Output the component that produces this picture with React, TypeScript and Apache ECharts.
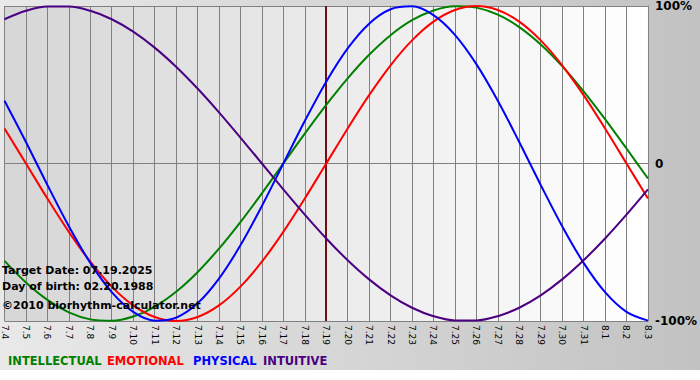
import React, { useEffect, useRef } from "react";
import * as echarts from "echarts";

const dates = [
  "7.4", "7.5", "7.6", "7.7", "7.8", "7.9", "7.10", "7.11", "7.12", "7.13", "7.14",
  "7.15", "7.16", "7.17", "7.18", "7.19", "7.20", "7.21", "7.22", "7.23", "7.24",
  "7.25", "7.26", "7.27", "7.28", "7.29", "7.30", "7.31", "8.1", "8.2", "8.3",
];

const physical = [
  0.3984, 0.1362, -0.1362, -0.3984, -0.6311, -0.817, -0.9423, -0.9977, -0.9791, -0.8879, -0.7308,
  -0.5196, -0.2698, 0, 0.2698, 0.5196, 0.7308, 0.8879, 0.9791, 0.9977, 0.9423,
  0.817, 0.6311, 0.3984, 0.1362, -0.1362, -0.3984, -0.6311, -0.817, -0.9423, -0.9977,
];

const emotional = [
  0.2225, 0, -0.2225, -0.4339, -0.6235, -0.7818, -0.901, -0.9749, -1, -0.9749, -0.901,
  -0.7818, -0.6235, -0.4339, -0.2225, 0, 0.2225, 0.4339, 0.6235, 0.7818, 0.901,
  0.9749, 1, 0.9749, 0.901, 0.7818, 0.6235, 0.4339, 0.2225, 0, -0.2225,
];

const intellectual = [
  -0.6182, -0.7557, -0.866, -0.945, -0.9898, -0.9989, -0.9718, -0.9096, -0.8146, -0.6901, -0.5406,
  -0.3717, -0.1893, 0, 0.1893, 0.3717, 0.5406, 0.6901, 0.8146, 0.9096, 0.9718,
  0.9989, 0.9898, 0.945, 0.866, 0.7557, 0.6182, 0.4582, 0.2817, 0.095, -0.095,
];

const intuitive = [
  0.9158, 0.9694, 0.9966, 0.9966, 0.9694, 0.9158, 0.8372, 0.7357, 0.6142, 0.4759, 0.3247,
  0.1646, 0, -0.1646, -0.3247, -0.4759, -0.6142, -0.7357, -0.8372, -0.9158, -0.9694,
  -0.9966, -0.9966, -0.9694, -0.9158, -0.8372, -0.7357, -0.6142, -0.4759, -0.3247, -0.1646,
];

const targetDate = "7.19";
const infoLines = ["Target Date: 07.19.2025", "Day of birth: 02.20.1988", "©2010 biorhythm-calculator.net"];
const legendNames = ["INTELLECTUAL", "EMOTIONAL", "PHYSICAL", "INTUITIVE"];
const colors = ["#008000", "#ff0000", "#0000ff", "#4b0082"];

export default function App() {
  const ref = useRef<HTMLDivElement>(null);
  useEffect(() => {
    if (!ref.current) return;
    const chart = echarts.init(ref.current, null, { renderer: "svg" });
    const seriesData = [intellectual, emotional, physical, intuitive];
    const font = "DejaVu Sans, Verdana, sans-serif";
    const legendX = [8, 107, 193, 263];
    chart.setOption({
      animation: false,
      backgroundColor: new echarts.graphic.LinearGradient(0, 0, 1, 0, [
        { offset: 0, color: "#e9e9e9" },
        { offset: 1, color: "#c2c2c2" },
      ]),
      grid: {
        left: 1,
        right: 49,
        top: 1,
        bottom: 59,
        show: true,
        borderWidth: 0,
        backgroundColor: new echarts.graphic.LinearGradient(0, 0, 1, 0, [
          { offset: 0, color: "#d6d6d6" },
          { offset: 1, color: "#ffffff" },
        ]),
      },
      xAxis: {
        type: "category",
        data: dates,
        boundaryGap: false,
        axisLine: { show: true, lineStyle: { color: "#808080", width: 1 } },
        axisTick: { show: true, length: 4, lineStyle: { color: "#808080" }, alignWithLabel: true },
        splitLine: { show: true, lineStyle: { color: "#808080", width: 1 } },
        axisLabel: {
          rotate: -90,
          interval: 0,
          margin: 4,
          color: "#000",
          fontSize: 9,
          fontFamily: font,
        },
      },
      yAxis: {
        type: "value",
        position: "right",
        min: -1,
        max: 1,
        interval: 1,
        axisLine: { show: true, lineStyle: { color: "#808080" } },
        axisTick: { show: false },
        splitLine: { show: true, lineStyle: { color: "#808080", width: 1 } },
        axisLabel: {
          margin: 7,
          color: "#000",
          fontSize: 12,
          fontWeight: "bold",
          fontFamily: font,
          formatter: (v: number) => (v === 1 ? "100%" : v === -1 ? "-100%" : "0"),
        },
      },
      series: legendNames.map((name, i) => ({
        name,
        type: "line",
        data: seriesData[i],
        smooth: 0.33,
        showSymbol: false,
        symbol: "none",
        lineStyle: { color: colors[i], width: 2 },
        z: 3,
        markLine:
          i === 0
            ? {
                silent: true,
                symbol: "none",
                label: { show: false },
                lineStyle: { color: "#701010", width: 2, type: "solid" },
                data: [{ xAxis: targetDate }],
                z: 2,
              }
            : undefined,
      })),
      graphic: [
        {
          type: "rect",
          left: 0,
          top: 370,
          shape: { width: 700, height: 10 },
          style: { fill: "#ffffff" },
        },
        ...infoLines.map((t, i) => ({
          type: "text",
          left: 2,
          top: [265, 281, 300][i],
          z: 10,
          style: {
            text: t,
            fill: "#000",
            font: `bold 11px ${font}`,
          },
        })),
        ...legendNames.map((n, i) => ({
          type: "text",
          left: legendX[i],
          top: 355,
          z: 10,
          style: {
            text: n,
            fill: colors[i],
            font: `bold 11.5px ${font}`,
          },
        })),
      ],
    });
    return () => chart.dispose();
  }, []);
  return (
    <div
      ref={ref}
      style={{ position: "absolute", left: 0, top: 0, width: 700, height: 380 }}
    />
  );
}
